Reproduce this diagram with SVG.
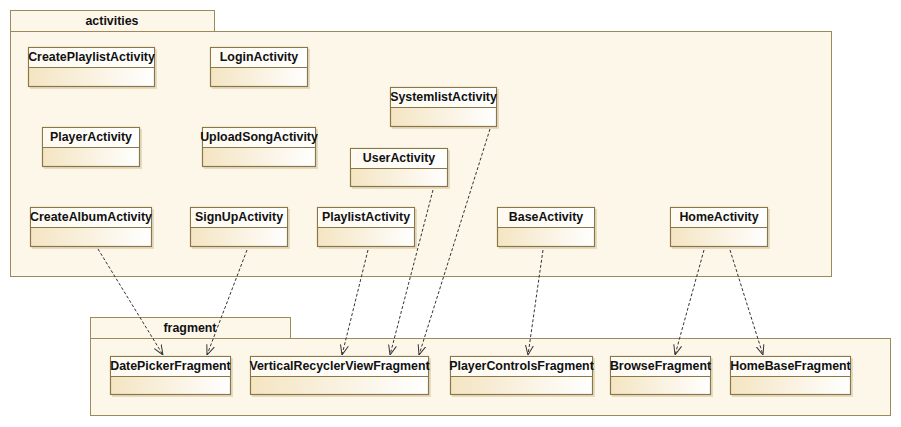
<svg xmlns="http://www.w3.org/2000/svg" width="901" height="427" viewBox="0 0 901 427">
<defs>
<linearGradient id="g" x1="0" y1="0" x2="1" y2="0">
<stop offset="0" stop-color="#f4e5c2"/>
<stop offset="1" stop-color="#ffffff"/>
</linearGradient>
<linearGradient id="gh" x1="0" y1="0" x2="1" y2="0">
<stop offset="0" stop-color="#fefaf0"/>
<stop offset="1" stop-color="#ffffff"/>
</linearGradient>
<marker id="arr" viewBox="0 0 10 10" refX="10" refY="5" markerWidth="10" markerHeight="10" markerUnits="userSpaceOnUse" orient="auto">
<path d="M0,1 L10,5 L0,9" fill="none" stroke="#333" stroke-width="1"/>
</marker>
</defs>
<style>
.pkg{fill:#fdf7ea;stroke:#9c8a5c;stroke-width:1}
.shadow{fill:#e6dcc4}
.box{fill:url(#g);stroke:#8b7745;stroke-width:1.2}
.hdr{fill:url(#gh)}
.div{stroke:#8b7745;stroke-width:1}
.t{font-family:"Liberation Sans",Arial,sans-serif;font-weight:bold;font-size:12.4px;fill:#111;text-anchor:middle}
.c{fill:none;stroke:#333;stroke-width:1;stroke-dasharray:3,2;marker-end:url(#arr)}
</style>
<rect width="901" height="427" fill="#ffffff"/>

<g id="activities">
<rect class="pkg" x="10.5" y="10.5" width="204" height="21"/>
<rect class="pkg" x="10.5" y="31.5" width="821" height="245"/>
<text class="t" x="112" y="25">activities</text>
</g>
<g id="fragment">
<rect class="pkg" x="90.5" y="317.5" width="200" height="21"/>
<rect class="pkg" x="90.5" y="338.5" width="800" height="77"/>
<text class="t" x="190" y="332">fragment</text>
</g>

<g id="CreatePlaylistActivity">
<rect class="shadow" x="30" y="49" width="127" height="40"/>
<rect class="box" x="28.5" y="47.5" width="126" height="39"/>
<rect class="hdr" x="29" y="48" width="125" height="19"/>
<line class="div" x1="28.5" y1="67.5" x2="154.5" y2="67.5"/>
<text class="t" x="91.5" y="61">CreatePlaylistActivity</text>
</g>
<g id="LoginActivity">
<rect class="shadow" x="212" y="49" width="98" height="40"/>
<rect class="box" x="210.5" y="47.5" width="97" height="39"/>
<rect class="hdr" x="211" y="48" width="96" height="19"/>
<line class="div" x1="210.5" y1="67.5" x2="307.5" y2="67.5"/>
<text class="t" x="259" y="61">LoginActivity</text>
</g>
<g id="PlayerActivity">
<rect class="shadow" x="44" y="129" width="98" height="40"/>
<rect class="box" x="42.5" y="127.5" width="97" height="39"/>
<rect class="hdr" x="43" y="128" width="96" height="19"/>
<line class="div" x1="42.5" y1="147.5" x2="139.5" y2="147.5"/>
<text class="t" x="91" y="141">PlayerActivity</text>
</g>
<g id="UploadSongActivity">
<rect class="shadow" x="204" y="129" width="114" height="40"/>
<rect class="box" x="202.5" y="127.5" width="113" height="39"/>
<rect class="hdr" x="203" y="128" width="112" height="19"/>
<line class="div" x1="202.5" y1="147.5" x2="315.5" y2="147.5"/>
<text class="t" x="259" y="141">UploadSongActivity</text>
</g>
<g id="SystemlistActivity">
<rect class="shadow" x="392" y="89" width="107" height="40"/>
<rect class="box" x="390.5" y="87.5" width="106" height="39"/>
<rect class="hdr" x="391" y="88" width="105" height="19"/>
<line class="div" x1="390.5" y1="107.5" x2="496.5" y2="107.5"/>
<text class="t" x="443.5" y="101">SystemlistActivity</text>
</g>
<g id="UserActivity">
<rect class="shadow" x="352" y="150" width="98" height="39"/>
<rect class="box" x="350.5" y="148.5" width="97" height="38"/>
<rect class="hdr" x="351" y="149" width="96" height="19"/>
<line class="div" x1="350.5" y1="168.5" x2="447.5" y2="168.5"/>
<text class="t" x="399" y="162">UserActivity</text>
</g>
<g id="CreateAlbumActivity">
<rect class="shadow" x="32" y="209" width="122" height="40"/>
<rect class="box" x="30.5" y="207.5" width="121" height="39"/>
<rect class="hdr" x="31" y="208" width="120" height="19"/>
<line class="div" x1="30.5" y1="227.5" x2="151.5" y2="227.5"/>
<text class="t" x="91" y="221">CreateAlbumActivity</text>
</g>
<g id="SignUpActivity">
<rect class="shadow" x="192" y="209" width="98" height="40"/>
<rect class="box" x="190.5" y="207.5" width="97" height="39"/>
<rect class="hdr" x="191" y="208" width="96" height="19"/>
<line class="div" x1="190.5" y1="227.5" x2="287.5" y2="227.5"/>
<text class="t" x="239" y="221">SignUpActivity</text>
</g>
<g id="PlaylistActivity">
<rect class="shadow" x="319" y="209" width="98" height="40"/>
<rect class="box" x="317.5" y="207.5" width="97" height="39"/>
<rect class="hdr" x="318" y="208" width="96" height="19"/>
<line class="div" x1="317.5" y1="227.5" x2="414.5" y2="227.5"/>
<text class="t" x="366" y="221">PlaylistActivity</text>
</g>
<g id="BaseActivity">
<rect class="shadow" x="499" y="209" width="98" height="40"/>
<rect class="box" x="497.5" y="207.5" width="97" height="39"/>
<rect class="hdr" x="498" y="208" width="96" height="19"/>
<line class="div" x1="497.5" y1="227.5" x2="594.5" y2="227.5"/>
<text class="t" x="546" y="221">BaseActivity</text>
</g>
<g id="HomeActivity">
<rect class="shadow" x="672" y="209" width="98" height="40"/>
<rect class="box" x="670.5" y="207.5" width="97" height="39"/>
<rect class="hdr" x="671" y="208" width="96" height="19"/>
<line class="div" x1="670.5" y1="227.5" x2="767.5" y2="227.5"/>
<text class="t" x="719" y="221">HomeActivity</text>
</g>

<g id="DatePickerFragment">
<rect class="shadow" x="112" y="358" width="121" height="39"/>
<rect class="box" x="110.5" y="356.5" width="120" height="38"/>
<rect class="hdr" x="111" y="357" width="119" height="19"/>
<line class="div" x1="110.5" y1="376.5" x2="230.5" y2="376.5"/>
<text class="t" x="170.5" y="370">DatePickerFragment</text>
</g>
<g id="VerticalRecyclerViewFragment">
<rect class="shadow" x="252" y="358" width="179" height="39"/>
<rect class="box" x="250.5" y="356.5" width="178" height="38"/>
<rect class="hdr" x="251" y="357" width="177" height="19"/>
<line class="div" x1="250.5" y1="376.5" x2="428.5" y2="376.5"/>
<text class="t" x="339.5" y="370">VerticalRecyclerViewFragment</text>
</g>
<g id="PlayerControlsFragment">
<rect class="shadow" x="452" y="358" width="143" height="39"/>
<rect class="box" x="450.5" y="356.5" width="142" height="38"/>
<rect class="hdr" x="451" y="357" width="141" height="19"/>
<line class="div" x1="450.5" y1="376.5" x2="592.5" y2="376.5"/>
<text class="t" x="521.5" y="370">PlayerControlsFragment</text>
</g>
<g id="BrowseFragment">
<rect class="shadow" x="612" y="358" width="101" height="39"/>
<rect class="box" x="610.5" y="356.5" width="100" height="38"/>
<rect class="hdr" x="611" y="357" width="99" height="19"/>
<line class="div" x1="610.5" y1="376.5" x2="710.5" y2="376.5"/>
<text class="t" x="660.5" y="370">BrowseFragment</text>
</g>
<g id="HomeBaseFragment">
<rect class="shadow" x="732" y="358" width="121" height="39"/>
<rect class="box" x="730.5" y="356.5" width="120" height="38"/>
<rect class="hdr" x="731" y="357" width="119" height="19"/>
<line class="div" x1="730.5" y1="376.5" x2="850.5" y2="376.5"/>
<text class="t" x="790.5" y="370">HomeBaseFragment</text>
</g>

<g id="connectors">
<line class="c" x1="98" y1="249" x2="163" y2="355"/>
<line class="c" x1="247" y1="250" x2="207" y2="355"/>
<line class="c" x1="368" y1="250" x2="342" y2="355"/>
<line class="c" x1="433" y1="190" x2="390" y2="355"/>
<line class="c" x1="490" y1="129" x2="419" y2="355"/>
<line class="c" x1="543" y1="250" x2="528" y2="355"/>
<line class="c" x1="704" y1="250" x2="675" y2="355"/>
<line class="c" x1="730" y1="250" x2="763" y2="355"/>
</g>
</svg>
